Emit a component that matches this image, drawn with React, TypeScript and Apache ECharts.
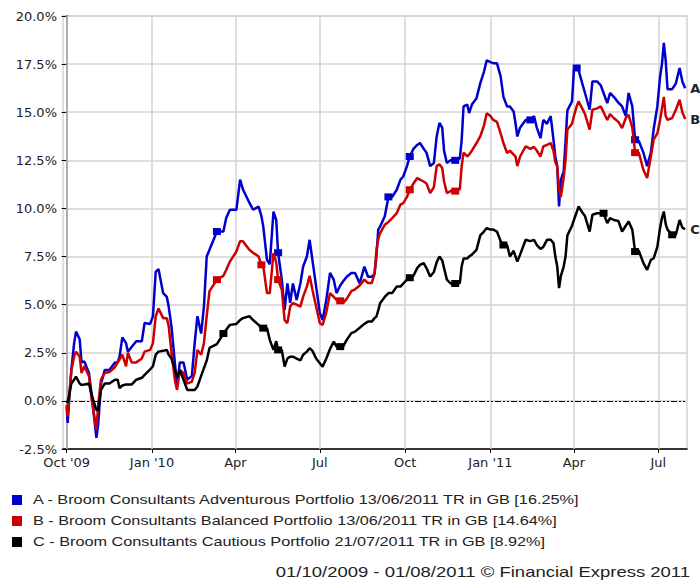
import React, { useEffect, useRef } from "react";
import * as echarts from "echarts";

// ---- data (day offsets from 01/10/2009, cumulative % return) ----
const startDate = Date.UTC(2009, 9, 1);
const DAY = 86400000;

const days = [0,1,5,8,10,14,16,19,24,27,32,34,37,41,46,52,55,57,60,64,66,70,75,81,84,90,93,96,99,104,108,110,113,117,119,122,126,130,135,138,141,145,148,151,154,162,169,172,176,183,187,190,197,
201,207,210,212,216,219,223,226,228,232,235,238,241,244,248,252,255,259,262,265,269,273,276,280,284,288,291,295,298,302,307,311,316,321,325,329,332,334,336,338,343,347,351,356,360,363,367,370,374,378,381,385,388,392,396,399,402,405,407,410,414,419,424,426,428,432,434,437,442,446,450,453,457,460,464,468,471,475,478,482,484,486,489,495,500,504,507,511,514,518,522,525,527,529,531,533,536,538,540,545,547,550,552,556,559,564,567,572,576,579,583,586,590,595,599,603,606,610,613,617,622,626,630,633,637,640,642,644,646,648,653,657,661,664,667];

const seriesA = [-0.3,-1.15,1.6,3.0,3.6,3.2,2.0,2.05,1.45,0.3,-1.92,-1.2,0.9,1.6,1.6,2.0,2.0,2.3,3.3,3.0,2.55,2.8,3.1,3.1,4.05,4.0,4.4,6.7,6.85,5.6,5.4,4.9,3.86,1.8,0.75,2.0,2.0,1.1,1.3,3.0,4.4,3.5,4.9,7.5,7.85,8.8,8.8,9.5,9.93,9.93,11.5,11.0,10.3,
9.93,10.1,9.6,9.06,7.33,7.1,9.84,9.4,7.7,6.3,
4.73,6.1,5.1,6.1,5.25,6.1,6.98,7.5,8.37,7.33,
5.94,4.57,4.2,5.25,6.65,6.3,5.6,6.0,6.2,6.45,
6.65,6.65,6.1,6.98,6.45,6.45,6.6,7.5,8.9,9.06,
9.58,10.6,10.6,10.97,11.5,11.66,12.2,12.7,13.1,13.3,
13.4,13.1,12.9,12.2,12.36,13.74,14.44,14.2,13.0,12.36,
12.5,12.5,12.6,13.57,15.3,15.4,14.96,15.4,15.73,16.5,
17.1,17.7,17.6,17.55,17.55,16.86,15.8,15.3,15.3,15.04,
14.44,13.74,14.2,14.6,14.6,14.8,14.2,13.65,14.6,14.4,
14.8,13.57,12.7,12.2,10.1,11.5,11.92,13.5,15.1,15.56,
17.2,17.3,17.2,16.5,16.0,15.13,16.6,16.6,16.4,16.0,
15.47,16.0,15.8,15.5,15.3,14.8,16.0,15.3,13.57,13.5,
12.9,12.2,12.9,14.1,15.3,16.86,17.5,18.6,17.7,16.2,
16.2,16.5,17.3,16.6,16.25];

const seriesB = [-0.2,-0.8,1.6,2.3,2.56,2.3,1.45,1.8,1.3,0.05,-1.5,-0.2,1.1,1.45,1.5,1.75,2.0,2.15,2.4,1.8,2.5,2.0,2.0,2.2,2.56,2.65,3.0,4.4,4.8,4.3,4.3,3.9,2.5,1.0,0.57,1.6,1.45,0.9,1.0,1.45,2.65,2.4,3.0,4.4,5.7,6.3,6.5,6.8,7.24,7.76,8.3,8.3,7.85,
7.7,7.5,7.07,7.0,5.6,5.6,7.68,7.2,6.3,5.77,
4.2,4.04,4.9,5.08,5.0,4.9,5.42,5.94,6.5,5.77,
4.9,4.04,3.95,4.6,5.6,5.4,5.25,5.2,5.08,5.3,
5.7,5.8,6.0,6.3,6.12,6.12,6.6,7.8,8.4,8.72,
9.15,9.3,9.5,9.76,10.2,10.28,10.6,10.97,11.3,11.58,
11.5,11.4,11.3,10.8,11.1,12.2,12.3,12.1,11.4,10.8,
10.9,10.9,11.0,12.2,12.9,12.7,12.8,13.0,13.4,13.74,
14.3,14.95,14.8,14.6,14.5,13.9,13.4,12.88,13.0,12.8,
12.7,12.2,12.7,13.22,13.1,13.2,13.0,12.7,13.22,13.3,
13.4,13.0,12.4,12.2,11.0,10.6,11.6,12.5,14.1,14.4,
14.8,15.3,15.56,15.2,14.9,14.1,15.13,15.2,15.3,15.0,
14.6,14.9,14.7,14.5,14.18,14.7,14.87,14.2,12.9,12.9,
12.0,11.58,12.7,13.57,13.9,14.6,15.2,15.8,14.8,14.6,
14.7,15.13,15.65,15.0,14.64];

const seriesC = [0.0,-0.1,0.9,1.1,1.26,0.9,0.83,0.85,0.9,0.3,-0.47,-0.47,0.57,0.9,0.9,1.1,1.1,0.66,0.8,0.85,0.85,0.85,1.1,1.2,1.35,1.64,1.8,2.4,2.56,2.6,2.65,2.4,2.2,1.6,1.2,1.6,1.1,0.57,0.57,0.57,0.75,1.3,1.7,2.1,2.75,2.95,3.5,3.7,3.95,4.0,4.2,4.3,4.4,
4.2,3.95,3.78,3.78,3.78,3.17,2.65,3.1,2.65,2.65,
1.78,2.2,2.3,2.3,2.2,2.1,2.4,2.56,2.74,2.6,
2.2,1.96,1.78,2.2,2.7,3.08,2.82,2.82,2.82,3.17,
3.52,3.6,3.8,4.0,4.12,4.12,4.3,4.38,4.7,5.08,
5.4,5.6,5.6,5.94,5.94,6.1,6.3,6.4,6.5,6.9,
7.07,7.16,6.9,6.46,6.7,7.2,7.5,7.3,6.9,6.3,
6.1,6.1,6.12,7.0,7.4,7.4,7.5,7.6,7.85,8.6,
8.8,8.98,8.9,8.9,8.8,8.3,8.1,8.1,7.5,7.8,
7.5,7.24,7.6,8.37,8.3,8.37,8.1,7.9,8.0,8.37,
8.37,8.2,7.5,7.0,5.86,6.5,6.98,7.5,8.6,9.1,
9.4,9.8,10.1,9.8,9.6,8.8,9.67,9.75,9.75,9.75,
9.24,9.5,9.4,9.35,8.8,9.1,9.32,8.9,7.76,7.8,
7.16,6.81,7.33,7.4,8.0,9.0,9.5,9.84,9.2,8.9,
8.63,8.63,9.4,9.0,8.92];

// square markers drawn on the lines (day offsets)
const markerDaysA = [162, 230, 348, 370, 419, 500, 549, 613];
const markerDaysB = [160, 211, 229, 296, 370, 419, 613];
const markerDaysC = [169, 212, 230, 296, 370, 419, 470, 579, 613, 653];

const tickDates = ["2009-10-01", "2010-01-01", "2010-04-01", "2010-07-01", "2010-10-01", "2011-01-01", "2011-04-01", "2011-07-01"];
const tickLabels = ["Oct '09", "Jan '10", "Apr", "Jul", "Oct", "Jan '11", "Apr", "Jul"];
const axisStart = "2009-09-27";
const axisEnd = "2011-08-01";

const seriesNames = [
  "A - Broom Consultants Adventurous Portfolio 13/06/2011 TR in GB [16.25%]",
  "B - Broom Consultants Balanced Portfolio 13/06/2011 TR in GB [14.64%]",
  "C - Broom Consultants Cautious Portfolio 21/07/2011 TR in GB [8.92%]",
];
const endTags = ["A", "B", "C"];
const colors = ["#0000cc", "#cc0000", "#000000"];
const footerText = "01/10/2009 - 01/08/2011 \u00A9 Financial Express 2011";

const AXIS_FONT = "DejaVu Sans";
const TEXT_FONT = "Liberation Sans";

const toDay = (s: string) => Math.round((Date.parse(s + "T00:00:00Z") - startDate) / DAY);

function buildData(values: number[], markerDays: number[]) {
  const markIdx = new Set<number>();
  markerDays.forEach((md) => {
    let best = 0;
    for (let i = 1; i < days.length; i++) {
      if (Math.abs(days[i] - md) < Math.abs(days[best] - md)) best = i;
    }
    markIdx.add(best);
  });
  return values.map((v, i) => {
    const value = [days[i], v];
    if (markIdx.has(i)) return { value, symbol: "rect", symbolSize: [8, 7] };
    return { value };
  });
}

export default function App() {
  const ref = useRef<HTMLDivElement>(null);

  useEffect(() => {
    if (!ref.current) return;
    const chart = echarts.init(ref.current, undefined, { renderer: "svg" });
    const tickDays = tickDates.map(toDay);
    const allValues = [seriesA, seriesB, seriesC];
    const allMarkers = [markerDaysA, markerDaysB, markerDaysC];

    const series: any[] = allValues.map((vals, i) => ({
      name: seriesNames[i],
      type: "line",
      data: buildData(vals, allMarkers[i]),
      symbol: "none",
      showSymbol: true,
      smooth: false,
      lineStyle: { color: colors[i], width: 2.5 },
      itemStyle: { color: colors[i] },
      z: 3 + i,
      endLabel: {
        show: true,
        formatter: endTags[i],
        color: "#222",
        fontWeight: "bold",
        fontSize: 13,
        fontFamily: AXIS_FONT,
        distance: 5,
      },
      emphasis: { disabled: true },
      markLine:
        i === 2
          ? {
              silent: true,
              symbol: ["none", "none"],
              label: { show: false },
              lineStyle: { color: "#000", width: 1, type: [6, 2, 2, 2, 2, 2] },
              data: [{ yAxis: 0 }],
              z: 2,
            }
          : undefined,
    }));

    // vertical quarter grid lines, drawn on the x axis scale
    series.push({
      type: "line",
      data: [],
      silent: true,
      markLine: {
        silent: true,
        symbol: ["none", "none"],
        label: { show: false },
        lineStyle: { color: "#d3d3d3", width: 1.5, type: "solid" },
        data: tickDays.map((d) => ({ xAxis: d })),
        z: 1,
      },
    });

    const graphic: any[] = [];
    seriesNames.forEach((name, i) => {
      graphic.push({
        type: "rect",
        shape: { x: 12, y: 495 + 21 * i, width: 10, height: 10 },
        style: { fill: colors[i] },
      });
      graphic.push({
        type: "text",
        x: 33,
        y: 500 + 21 * i,
        scaleX: 1.25,
        style: {
          text: name,
          fontSize: 13,
          fontFamily: TEXT_FONT,
          fill: "#222",
          align: "left",
          verticalAlign: "middle",
        },
      });
    });
    graphic.push({
      type: "text",
      x: 690,
      y: 572,
      scaleX: 1.32,
      style: {
        text: footerText,
        fontSize: 14,
        fontFamily: TEXT_FONT,
        fill: "#222",
        align: "right",
        verticalAlign: "middle",
      },
    });

    chart.setOption({
      animation: false,
      backgroundColor: "#ffffff",
      grid: {
        left: 63,
        right: 13,
        top: 16,
        bottom: 131,
        show: true,
        borderColor: "#d3d3d3",
        borderWidth: 1.5,
        backgroundColor: "transparent",
      },
      xAxis: {
        type: "value",
        min: toDay(axisStart),
        max: toDay(axisEnd),
        axisLine: { show: true, onZero: false, lineStyle: { color: "#000", width: 1.5 } },
        axisTick: { show: true, customValues: tickDays, length: 4, lineStyle: { color: "#000" } },
        axisLabel: {
          customValues: tickDays,
          formatter: (val: number) => {
            const i = tickDays.indexOf(Math.round(val));
            return i >= 0 ? tickLabels[i] : "";
          },
          fontFamily: AXIS_FONT,
          fontSize: 13,
          color: "#222",
          margin: 7,
          showMinLabel: true,
          showMaxLabel: true,
          hideOverlap: false,
        },
        splitLine: { show: false },
      },
      yAxis: {
        type: "value",
        min: -2.5,
        max: 20,
        interval: 2.5,
        axisLine: { show: true, lineStyle: { color: "#000", width: 1.5 } },
        axisTick: { show: true, length: 5, lineStyle: { color: "#000" } },
        axisLabel: {
          formatter: (v: number) => v.toFixed(1) + "%",
          fontFamily: AXIS_FONT,
          fontSize: 13,
          color: "#222",
          margin: 6,
        },
        splitLine: { show: true, lineStyle: { color: "#d3d3d3", width: 1.5 } },
      },
      series,
      graphic,
    });
    return () => chart.dispose();
  }, []);

  return (
    <div
      ref={ref}
      style={{ position: "fixed", left: 0, top: 0, width: 700, height: 580, background: "#fff" }}
    />
  );
}
